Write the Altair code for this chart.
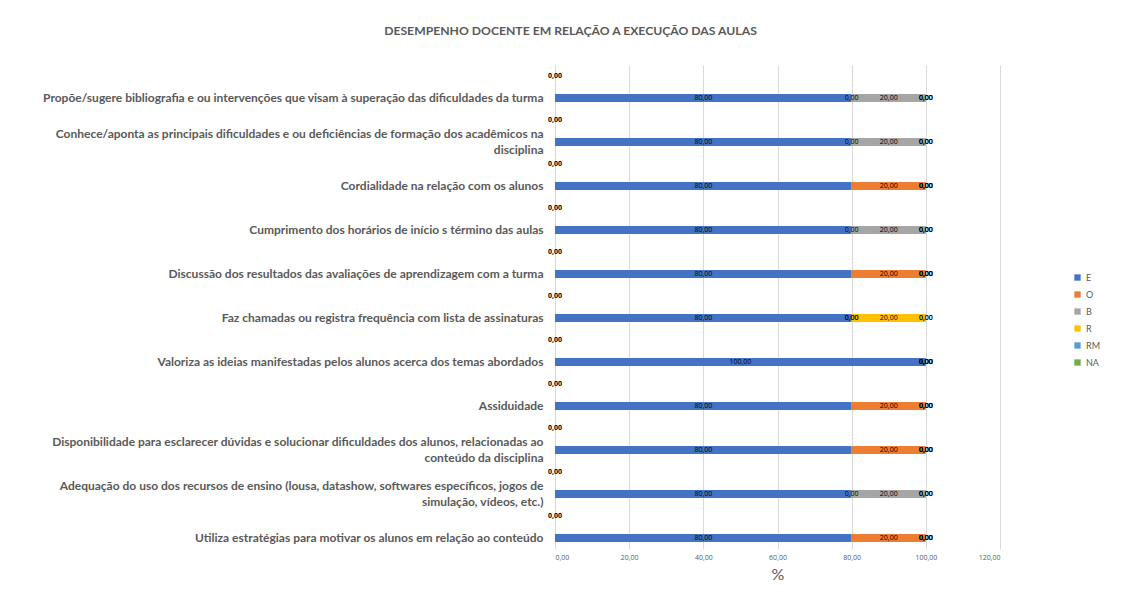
import altair as alt
import pandas as pd

categories = [
    "Propõe/sugere bibliografia e ou intervenções que visam à superação das dificuldades da turma",
    "Conhece/aponta as principais dificuldades e ou deficiências de formação dos acadêmicos na\ndisciplina",
    "Cordialidade na relação com os alunos",
    "Cumprimento dos horários de início s término das aulas",
    "Discussão dos resultados das avaliações de aprendizagem com a turma ",
    "Faz chamadas ou registra frequência com lista de assinaturas",
    "Valoriza as ideias manifestadas pelos alunos acerca dos temas abordados",
    "Assiduidade",
    "Disponibilidade para esclarecer dúvidas e solucionar dificuldades dos alunos, relacionadas ao\nconteúdo da disciplina",
    "Adequação do uso dos recursos de ensino (lousa, datashow, softwares específicos, jogos de\nsimulação, vídeos, etc.)",
    "Utiliza estratégias para motivar os alunos em relação ao conteúdo",
]

series = ["E", "O", "B", "R", "RM", "NA"]
E = [80, 80, 80, 80, 80, 80, 100, 80, 80, 80, 80]
O = [0, 0, 20, 0, 20, 0, 0, 20, 20, 0, 20]
B = [20, 20, 0, 20, 0, 0, 0, 0, 0, 20, 0]
R = [0, 0, 0, 0, 0, 20, 0, 0, 0, 0, 0]
RM = [0, 0, 0, 0, 0, 0, 0, 0, 0, 0, 0]
NA = [0, 0, 0, 0, 0, 0, 0, 0, 0, 0, 0]
second_group = [0, 0, 0, 0, 0, 0, 0, 0, 0, 0, 0]

colors = ["#4472C4", "#ED7D31", "#A5A5A5", "#FFC000", "#5B9BD5", "#70AD47"]
x_ticks = [0, 20, 40, 60, 80, 100, 120]

values = {"E": E, "O": O, "B": B, "R": R, "RM": RM, "NA": NA}
rows = []
for si, s in enumerate(series):
    for ci, c in enumerate(categories):
        rows.append({"category": c, "series": s, "order": si, "value": values[s][ci]})
df = pd.DataFrame(rows)
df2 = pd.DataFrame({"category": categories, "value": second_group})

FONT = "Lato"
SMALL_FONT = "Open Sans"
GRAY = "#595959"
fmt = "replace(format(datum.value, '.2f'), '.', ',')"

x_axis = alt.Axis(
    values=x_ticks,
    labelExpr=fmt,
    labelFontSize=7,
    labelColor=GRAY,
    labelFont=SMALL_FONT,
    labelPadding=4,
    ticks=False,
    domain=False,
    grid=True,
    gridColor="#d9d9d9",
    title="%",
    titleFontSize=16,
    titleFontWeight="normal",
    titleColor=GRAY,
    titleFont=FONT,
    titlePadding=6,
)
y_axis = alt.Axis(
    title=None,
    ticks=False,
    domain=False,
    grid=False,
    labelExpr="split(datum.label, '\\n')",
    labelFont=FONT,
    labelFontSize=12,
    labelFontWeight="bold",
    labelColor=GRAY,
    labelLineHeight=16,
    labelPadding=12,
    labelOffset={"condition": {"test": "indexof(datum.label, '\\n') >= 0", "value": 3}, "value": 11},
    labelLimit=0,
    minExtent=542,
    maxExtent=542,
)

x_scale = alt.Scale(domain=[0, 120], nice=False, zero=True)
y_enc = alt.Y("category:N", sort=categories, axis=y_axis,
              scale=alt.Scale(paddingInner=0, paddingOuter=0))

bars = alt.Chart(df).mark_bar(size=8, yOffset=11).encode(
    x=alt.X("value:Q", stack="zero", scale=x_scale, axis=x_axis),
    y=y_enc,
    color=alt.Color(
        "series:N",
        scale=alt.Scale(domain=series, range=colors),
        legend=alt.Legend(
            title=None,
            orient="none",
            legendX=518,
            legendY=208,
            symbolType="square",
            symbolSize=40,
            symbolStrokeWidth=0,
            labelFontSize=9,
            labelColor=GRAY,
            labelFont=FONT,
            rowPadding=7,
        ),
    ),
    order=alt.Order("order:Q"),
)

labels = alt.Chart(df).transform_stack(
    stack="value", as_=["x0", "x1"], groupby=["category"],
    sort=[alt.SortField("order", order="ascending")],
).transform_calculate(
    mid="(datum.x0 + datum.x1) / 2",
    txt=fmt,
).mark_text(yOffset=11, fontSize=7, font=SMALL_FONT, color="#000000", baseline="middle").encode(
    x=alt.X("mid:Q", scale=x_scale),
    y=alt.Y("category:N", sort=categories),
    text="txt:N",
    order=alt.Order("order:Q"),
)

upper = alt.Chart(df2).transform_calculate(txt=fmt).mark_text(
    yOffset=-11, fontSize=7, font=SMALL_FONT, fontWeight="bold", color="#000000", baseline="middle"
).encode(
    x=alt.X("value:Q", scale=x_scale),
    y=alt.Y("category:N", sort=categories),
    text="txt:N",
)

chart = alt.layer(bars, labels, upper).properties(
    width=445,
    height=484,
    padding={"left": 5, "top": 16, "right": 5, "bottom": 2},
    background="white",
    title=alt.TitleParams(
        "DESEMPENHO DOCENTE EM RELAÇÃO A EXECUÇÃO DAS AULAS",
        fontSize=12.2,
        font=FONT,
        fontWeight="bold",
        color=GRAY,
        anchor="middle",
        frame="bounds",
        offset=28,
        dx=14,
    ),
).configure_view(stroke=None)

chart.save("out.html", embed_options={"renderer": "svg", "actions": False})
